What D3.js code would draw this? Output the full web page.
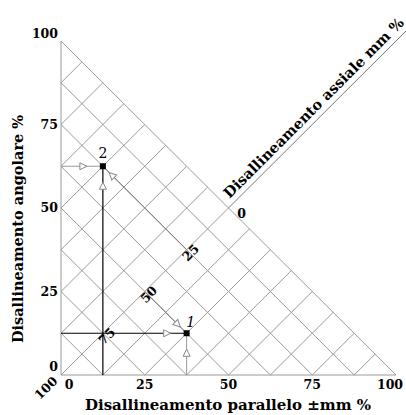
<!DOCTYPE html>
<html>
<head>
<meta charset="utf-8">
<script src="https://cdn.jsdelivr.net/npm/d3@7"></script>
<style>
  body { margin: 0; background: #fff; }
  text { font-family: "DejaVu Serif", serif; font-weight: bold; fill: #000; }
</style>
</head>
<body>
<svg id="chart"></svg>
<script>
// values
const xTicks = [0, 25, 50, 75, 100];
const yTicks = [0, 25, 50, 75, 100];
const axialTicks = [0, 25, 50, 75, 100];
const gridStep = 12.5;
const pointNames = ["1", "2"];
const parallel = [37.5, 12.5];   // mm %
const angular = [12.5, 62.5];    // %

let svgWidth = 406, svgHeight = 415;
let svg = d3.select('#chart')
    .attr("width", svgWidth)
    .attr("height", svgHeight);

let x = d3.scaleLinear().domain([0, 100]).range([61, 396]);
let y = d3.scaleLinear().domain([0, 100]).range([375, 41]);

let g = svg.append("g");

// diagonal grid inside the triangle
let gridLines = [];
for (let k = 1; k <= 8; k++) {
    let c = k * gridStep;
    gridLines.push([[0, c], [c, 0]]);              // x + y = c
}
for (let d = -7; d <= 7; d++) {
    let c = d * gridStep;                          // y - x = c
    let start = c >= 0 ? [0, c] : [-c, 0];
    gridLines.push([start, [(100 - c) / 2, (100 + c) / 2]]);
}
gridLines.push([[0, 0], [0, 100]]);
gridLines.push([[0, 0], [100, 0]]);

let line = d3.line().x(d => x(d[0])).y(d => y(d[1]));

g.selectAll(".grid")
    .data(gridLines)
    .enter().append("path")
    .attr("class", "grid")
    .attr("d", line)
    .attr("fill", "none")
    .attr("stroke", "#9a9a9a")
    .attr("stroke-width", 1);

// axial axis line continued past the hypotenuse
g.append("path")
    .datum([[50, 50], [103, 103]])
    .attr("d", line)
    .attr("stroke", "#777")
    .attr("stroke-width", 1);

// reading lines for the two points
let guides = [];
for (let i = 0; i < pointNames.length; i++) {
    let px = parallel[i], py = angular[i], s = (px + py) / 2;
    let dark = i === 0 ? "h" : "v";
    guides.push({ pts: [[0, py], [px, py]], color: dark === "h" ? "#000" : "#9a9a9a", kind: "hv" });
    guides.push({ pts: [[px, 0], [px, py]], color: dark === "v" ? "#000" : "#9a9a9a", kind: "hv" });
    guides.push({ pts: [[s, s], [px, py]], color: "#777", kind: "diag" });
}

g.selectAll(".guide")
    .data(guides)
    .enter().append("path")
    .attr("class", "guide")
    .attr("d", d => line(d.pts))
    .attr("fill", "none")
    .attr("stroke", d => d.color)
    .attr("stroke-width", d => d.color === "#000" ? 1.2 : 1);

// hollow arrow heads pointing at the point
let tri = "M4,0 L-3,-3.5 L-3,3.5 Z";
g.selectAll(".arrow")
    .data(guides)
    .enter().append("path")
    .attr("class", "arrow")
    .attr("d", tri)
    .attr("fill", "#fff")
    .attr("stroke", "#888")
    .attr("stroke-width", 1)
    .attr("transform", function (d) {
        let a = d.pts[0], b = d.pts[1];
        let x1 = x(a[0]), y1 = y(a[1]), x2 = x(b[0]), y2 = y(b[1]);
        let len = Math.hypot(x2 - x1, y2 - y1);
        let dist = d.kind === "hv" ? 20 : 13;
        let tx = x2 - (x2 - x1) / len * dist, ty = y2 - (y2 - y1) / len * dist;
        let ang = Math.atan2(y2 - y1, x2 - x1) * 180 / Math.PI;
        return "translate(" + tx + "," + ty + ") rotate(" + ang + ")";
    });

// points
g.selectAll(".pt")
    .data(pointNames)
    .enter().append("rect")
    .attr("x", (d, i) => x(parallel[i]) - 3)
    .attr("y", (d, i) => y(angular[i]) - 3)
    .attr("width", 6)
    .attr("height", 6)
    .attr("fill", "#000");

g.append("text")
    .attr("x", x(parallel[1]))
    .attr("y", y(angular[1]) - 8)
    .attr("text-anchor", "middle")
    .style("font-size", "14px")
    .style("font-weight", "normal")
    .text(pointNames[1]);

g.append("text")
    .attr("x", x(parallel[0]) + 4)
    .attr("y", y(angular[0]) - 6)
    .attr("text-anchor", "middle")
    .style("font-size", "14px")
    .style("font-weight", "normal")
    .style("font-style", "italic")
    .text(pointNames[0]);

// x tick labels
g.selectAll(".xt")
    .data(xTicks)
    .enter().append("text")
    .attr("x", d => x(d) + (d === 0 ? 8 : d === 100 ? -6 : 0))
    .attr("y", 389)
    .attr("text-anchor", "middle")
    .style("font-size", "12.5px")
    .text(d => d);

// y tick labels
g.selectAll(".yt")
    .data(yTicks)
    .enter().append("text")
    .attr("x", 58)
    .attr("y", d => y(d) + 4 + (d === 100 ? -7 : d === 0 ? -8 : 0))
    .attr("text-anchor", "end")
    .style("font-size", "12.5px")
    .text(d => d);

// axial tick labels along y = x
g.selectAll(".at")
    .data(axialTicks)
    .enter().append("text")
    .attr("text-anchor", "middle")
    .attr("dy", "0.35em")
    .style("font-size", "12.5px")
    .attr("transform", function (d) {
        let v = (100 - d) / 2;
        if (d === 0) return "translate(" + (x(v) + 13) + "," + (y(v) + 6) + ")";
        if (d === 100) return "translate(" + (x(v) - 15) + "," + (y(v) + 13) + ") rotate(-45)";
        return "translate(" + (x(v) + 4) + "," + (y(v) + 3) + ") rotate(-45)";
    })
    .text(d => d);

// axis titles
svg.append("text")
    .attr("x", 228)
    .attr("y", 410)
    .attr("text-anchor", "middle")
    .style("font-size", "15px")
    .text("Disallineamento parallelo ±mm %");

svg.append("text")
    .attr("transform", "translate(23,229) rotate(-90)")
    .attr("text-anchor", "middle")
    .style("font-size", "14.5px")
    .text("Disallineamento angolare %");

svg.append("text")
    .attr("transform", "translate(" + (x(51.5) - 4) + "," + (y(51.5) - 4) + ") rotate(-45)")
    .attr("text-anchor", "start")
    .style("font-size", "14.5px")
    .text("Disallineamento assiale mm %");
</script>
</body>
</html>
